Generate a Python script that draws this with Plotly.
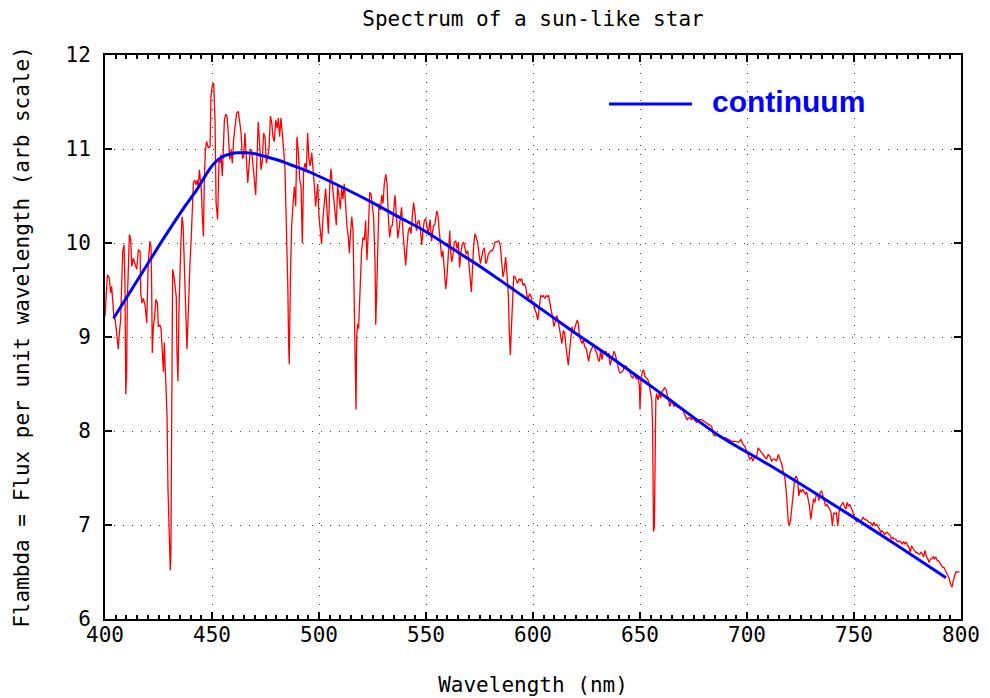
import plotly.graph_objects as go

# ---- red observed spectrum (wavelength nm, flux arb) ----
spec_wl_a = [400.0, 400.5, 401.1, 402.0, 402.6, 403.1, 403.6, 404.2, 404.8, 405.5, 406.2, 406.7, 407.3, 407.8, 408.3,
             408.9, 409.3, 409.7, 410.1, 410.4, 410.9, 411.4, 412.0, 412.5, 413.2, 414.0, 414.8, 415.6, 416.4, 416.7,
             417.3, 417.9, 418.7, 419.5, 420.2, 421.0, 421.5, 421.8, 422.1, 422.6, 423.2, 423.8, 424.5, 424.9, 425.7,
             426.2, 426.6, 427.3, 427.7, 428.3, 429.0, 429.4, 430.1, 430.5, 430.8, 431.2, 431.6, 432.2, 432.9, 433.3,
             433.6, 434.1, 434.6, 435.0, 435.5, 436.0, 436.5, 436.9, 437.4, 437.8, 438.3, 438.8, 439.2, 439.7, 440.2,
             440.6, 441.3, 441.9, 442.5, 443.1, 443.6, 444.1, 444.5, 445.0, 445.5, 446.0, 446.4, 446.9, 447.5, 448.3,
             449.1]
spec_fx_a = [9.22, 9.45, 9.66, 9.63, 9.47, 9.54, 9.36, 9.20, 9.18, 9.04, 8.87, 9.04, 9.18, 9.57, 9.91,
             9.98, 9.61, 8.39, 8.62, 9.36, 9.86, 10.09, 10.04, 9.75, 9.84, 9.79, 9.72, 9.93, 9.91, 9.47,
             9.36, 9.41, 9.34, 9.15, 9.79, 10.02, 9.96, 9.54, 8.83, 9.11, 9.22, 9.40, 9.36, 9.11, 9.13,
             9.08, 8.90, 8.63, 8.94, 8.65, 8.16, 7.41, 6.74, 6.52, 6.74, 9.15, 9.72, 9.65, 9.50, 9.43,
             8.87, 8.53, 9.33, 9.73, 10.02, 10.28, 10.18, 9.89, 9.54, 9.08, 8.87, 9.18, 9.54, 9.79, 10.00,
             10.30, 10.64, 10.67, 10.62, 10.67, 10.59, 10.78, 10.67, 10.57, 10.28, 10.07, 10.67, 10.99, 11.08, 11.01,
             11.03]

spec_wl_b = [449.5, 450.2, 450.8, 451.4, 451.9, 452.6, 453.0, 453.3, 453.7, 454.2, 454.8, 455.3, 455.8, 456.4, 457.0,
             457.6, 458.3, 458.9, 459.5, 460.1, 460.8, 461.5, 462.3, 462.9, 463.6, 464.2, 464.8, 465.4, 466.0, 466.7,
             467.3, 467.9, 468.5, 469.2, 469.8, 470.4, 471.0, 471.6, 472.3, 472.9, 473.5, 474.1, 474.8, 475.4, 476.0,
             476.6, 477.3, 477.9, 478.5, 479.1, 479.8, 480.4, 481.0, 481.6, 482.2, 482.9, 483.5, 484.1, 484.7, 485.4,
             485.8, 486.1, 486.6, 487.2, 487.9, 488.5, 489.1, 489.7, 490.3, 491.0, 491.6, 492.2, 492.8, 493.5, 494.1,
             494.7, 495.3, 495.9, 496.6, 497.2, 497.8, 498.4]
spec_fx_b = [11.56, 11.68, 11.70, 11.31, 10.43, 10.25, 10.78, 10.89, 10.85, 10.94, 10.71, 10.96, 11.31, 11.37, 11.35,
             11.17, 10.89, 10.99, 10.85, 11.10, 11.24, 11.38, 11.40, 11.28, 11.17, 10.90, 10.92, 11.17, 10.89, 10.64,
             10.82, 10.99, 10.99, 10.85, 10.67, 10.51, 10.99, 11.29, 11.03, 10.78, 10.87, 11.17, 11.12, 10.85, 10.92,
             10.99, 11.35, 11.28, 11.13, 11.08, 11.31, 11.22, 11.33, 11.13, 11.33, 11.17, 10.99, 10.78, 10.28, 9.57,
             8.94, 8.71, 9.57, 10.18, 10.43, 10.60, 10.39, 11.13, 10.99, 10.67, 10.60, 10.00, 10.78, 10.85, 10.78,
             11.17, 10.89, 10.82, 10.96, 10.82, 10.62, 10.39]

spec_wl_c = [499.4, 500.0, 500.6, 501.2, 501.9, 502.5, 503.1, 503.7, 504.4, 505.0, 505.6, 506.2, 506.9, 507.5, 508.1,
             508.7, 509.3, 510.0, 510.6, 511.2, 511.8, 512.5, 513.1, 513.7, 514.2, 514.6, 515.3, 515.9, 516.4, 516.8,
             517.3, 517.6, 518.1, 518.5, 519.0, 519.5, 519.9, 520.6, 521.2, 521.8, 522.4, 523.0, 523.7, 524.3, 524.9,
             525.5, 526.2, 526.5, 526.9, 527.4, 528.0, 528.7, 529.3, 529.9, 530.5, 531.2, 531.8, 532.4, 533.0, 533.6,
             534.3, 534.9, 535.5, 536.1, 536.8, 537.4, 538.0, 538.6, 539.3, 539.9, 540.5, 541.1, 541.7, 542.4, 543.0,
             543.6, 544.2, 544.9, 545.5, 546.1, 546.7, 547.3, 548.0, 548.6, 549.2, 549.8]
spec_fx_c = [10.63, 10.28, 10.12, 9.99, 10.28, 10.49, 10.58, 10.36, 10.10, 10.59, 10.79, 10.63, 10.47, 10.31, 10.19,
             10.61, 10.49, 10.36, 10.59, 10.47, 10.63, 10.35, 10.17, 10.06, 9.89, 10.06, 10.28, 10.13, 9.50, 8.58,
             8.23, 9.00, 9.14, 9.09, 9.46, 9.71, 9.92, 10.06, 10.03, 10.24, 9.82, 10.10, 10.54, 10.52, 10.36,
             10.28, 9.78, 9.13, 9.43, 9.92, 10.42, 10.35, 10.51, 10.42, 10.63, 10.73, 10.63, 10.28, 10.06, 10.17,
             10.19, 10.35, 10.51, 10.31, 10.05, 10.15, 10.24, 10.38, 10.10, 9.92, 9.76, 9.96, 10.12, 10.17, 10.10,
             10.28, 10.43, 10.31, 10.13, 10.22, 10.24, 10.17, 9.98, 10.13, 10.24, 10.26]

spec_wl_d = [550.3, 551.1, 551.9, 552.6, 553.4, 554.2, 555.0, 555.5, 556.1, 556.7, 557.3, 557.9, 558.6, 559.2, 559.8,
             560.4, 561.1, 561.5, 562.0, 562.6, 563.2, 563.9, 564.5, 565.1, 565.7, 566.4, 567.0, 567.6, 568.2, 568.8,
             569.5, 570.1, 570.7, 571.2, 571.7, 572.3, 572.9, 573.5, 574.1, 574.8, 575.4, 576.0, 576.6, 577.3, 577.9,
             578.5, 579.1, 579.7, 580.4, 581.0, 581.6, 582.2, 582.9, 583.5, 584.1, 584.7, 585.4, 586.0, 586.6, 587.2,
             587.8, 588.5, 588.9, 589.4, 589.9, 590.3, 591.0, 591.6, 592.2, 592.8, 593.5, 594.1, 594.7, 595.3, 595.9,
             596.6, 597.2, 597.8, 598.4, 599.1, 599.7, 600.3, 600.9, 601.6, 602.2]
spec_fx_d = [10.20, 10.10, 10.25, 10.02, 10.18, 10.20, 10.34, 10.31, 10.15, 9.95, 9.85, 9.92, 9.64, 9.51, 9.64,
             9.85, 10.13, 9.92, 9.80, 9.87, 10.01, 10.02, 9.94, 10.01, 9.74, 9.92, 9.99, 10.01, 9.92, 9.88,
             9.92, 9.74, 9.57, 9.48, 9.71, 9.99, 10.10, 10.06, 10.01, 9.88, 9.78, 9.85, 9.92, 9.95, 9.78,
             9.81, 9.88, 9.90, 9.92, 9.92, 9.95, 10.01, 10.01, 10.02, 10.02, 9.97, 9.73, 9.64, 9.71, 9.85,
             9.69, 9.43, 9.07, 8.81, 9.09, 9.36, 9.65, 9.64, 9.60, 9.57, 9.62, 9.60, 9.62, 9.55, 9.57,
             9.53, 9.44, 9.41, 9.46, 9.43, 9.36, 9.37, 9.29, 9.25, 9.18]

spec_wl_e = [603.0, 603.6, 604.2, 604.8, 605.5, 606.1, 606.7, 607.3, 607.9, 608.6, 609.2, 609.8, 610.4, 611.1, 611.7,
             612.3, 612.9, 613.5, 614.2, 614.8, 615.4, 616.0, 616.5, 617.0, 617.6, 618.2, 618.8, 619.5, 620.1, 620.7,
             621.2, 621.7, 622.3, 622.9, 623.5, 624.1, 624.8, 625.4, 626.0, 626.6, 627.3, 627.9, 628.5, 629.1, 629.8,
             630.4, 631.0, 631.6, 632.2, 632.9, 633.5, 634.1, 634.7, 635.4, 636.0, 636.6, 637.2, 637.9, 638.5, 639.1,
             639.7, 640.3, 641.0, 641.6, 642.2, 642.8, 643.5, 644.1, 644.7, 645.3, 646.0, 646.6, 647.2, 647.8, 648.5,
             649.1, 649.7, 650.0, 650.5, 651.1, 651.7, 652.3, 653.0, 653.6, 654.2, 654.8, 655.5, 655.9, 656.1, 656.3,
             656.7, 657.0, 657.4, 657.8, 658.4, 659.0, 659.7, 660.3, 660.9, 661.5, 662.2, 662.8, 663.4, 664.0, 664.6,
             665.3, 665.9, 666.5, 667.1, 667.8, 668.4, 669.0, 669.6, 670.2, 670.9, 671.5, 672.1, 672.7, 673.4, 674.0,
             674.6, 675.2, 675.9, 676.5, 677.1, 677.7]
spec_fx_e = [9.30, 9.44, 9.43, 9.44, 9.41, 9.44, 9.43, 9.44, 9.36, 9.29, 9.20, 9.11, 9.16, 9.23, 9.18,
             9.09, 9.04, 8.93, 9.07, 9.04, 8.90, 8.74, 8.70, 8.83, 8.97, 9.11, 9.04, 9.11, 9.14, 9.18,
             9.14, 9.00, 8.97, 8.93, 8.97, 8.90, 8.88, 8.79, 8.74, 8.83, 8.88, 8.90, 8.92, 8.86, 8.83,
             8.76, 8.74, 8.86, 8.76, 8.85, 8.83, 8.85, 8.79, 8.83, 8.70, 8.74, 8.79, 8.85, 8.81, 8.76,
             8.69, 8.63, 8.62, 8.63, 8.65, 8.69, 8.69, 8.67, 8.65, 8.62, 8.58, 8.56, 8.60, 8.58, 8.55,
             8.58, 8.48, 8.23, 8.55, 8.63, 8.65, 8.58, 8.56, 8.55, 8.51, 8.42, 8.33, 8.04, 7.70, 6.93,
             6.98, 8.00, 8.34, 8.40, 8.33, 8.40, 8.35, 8.42, 8.44, 8.46, 8.44, 8.37, 8.30, 8.26, 8.32,
             8.30, 8.26, 8.28, 8.26, 8.25, 8.26, 8.23, 8.25, 8.21, 8.18, 8.14, 8.12, 8.14, 8.14, 8.12,
             8.14, 8.12, 8.11, 8.09, 8.11, 8.12]

spec_wl_f = [678.8, 680.4, 682.0, 683.5, 684.3, 685.1, 686.7, 688.2, 689.8, 691.4, 692.9, 694.5, 696.1, 697.2, 698.1,
             698.9, 699.7, 700.5, 701.3, 702.1, 702.8, 703.6, 704.4, 705.2, 706.0, 706.8, 707.5, 708.3, 709.1, 709.9,
             710.7, 711.5, 712.3, 713.0, 713.8, 714.6, 715.4, 716.2, 717.0, 717.8, 718.5, 719.3, 719.8, 720.4, 721.0,
             721.7, 722.3, 722.9, 723.6, 724.2, 724.8, 725.4, 726.1, 726.7, 727.3, 727.9, 728.6, 729.2, 729.8, 730.5,
             731.1, 731.7, 732.3, 733.0, 733.6, 734.2, 734.9, 735.5, 736.1, 736.7, 737.4, 738.0, 738.6, 739.3, 739.9,
             740.5, 741.1, 741.8, 742.4, 743.0, 743.7, 744.3, 744.9, 745.5, 746.2, 746.8, 747.4, 748.0, 748.7, 749.3,
             749.9, 750.6, 751.2, 751.8, 752.4, 753.1, 753.7, 754.3, 754.9, 755.6, 756.2, 756.8, 757.5, 758.1, 758.7,
             759.3, 760.0, 760.6, 761.2, 761.9, 762.5, 763.1, 763.7, 764.4, 765.0, 765.6, 766.3, 766.9, 767.5, 768.1,
             768.8, 769.4, 770.0, 770.7, 771.3, 771.9, 772.5, 773.2, 773.8, 774.4, 775.1, 775.7, 776.3, 776.9, 777.6,
             778.2, 778.8, 779.4, 780.1, 780.7, 781.3, 782.0, 782.6, 783.2, 783.8, 784.5, 785.1, 785.7, 786.3, 787.0,
             787.6, 788.2, 788.9, 789.5, 790.1, 790.7, 791.4, 792.0, 792.6, 793.3, 793.9, 794.5, 795.1, 795.8, 796.4,
             797.0, 797.6, 798.3, 799.2]
spec_fx_f = [8.12, 8.09, 8.07, 8.05, 7.96, 7.95, 7.96, 7.93, 7.93, 7.91, 7.89, 7.89, 7.88, 7.91, 7.86,
             7.84, 7.79, 7.75, 7.70, 7.72, 7.68, 7.73, 7.72, 7.82, 7.79, 7.77, 7.75, 7.72, 7.70, 7.75,
             7.73, 7.68, 7.70, 7.70, 7.68, 7.75, 7.70, 7.65, 7.56, 7.49, 7.31, 7.03, 6.99, 7.06, 7.20,
             7.35, 7.49, 7.52, 7.49, 7.31, 7.38, 7.35, 7.38, 7.35, 7.33, 7.35, 7.26, 7.20, 7.06, 7.22,
             7.28, 7.24, 7.31, 7.33, 7.26, 7.35, 7.36, 7.31, 7.24, 7.20, 7.22, 7.20, 7.17, 7.13, 6.99,
             7.13, 7.12, 7.13, 6.99, 7.13, 7.20, 7.22, 7.24, 7.20, 7.17, 7.24, 7.20, 7.22, 7.19, 7.15,
             7.10, 7.05, 7.03, 7.06, 7.05, 7.03, 7.06, 7.08, 7.06, 7.05, 7.05, 7.03, 7.02, 7.02, 6.99,
             7.03, 6.99, 7.01, 6.98, 6.96, 6.92, 6.94, 6.92, 6.90, 6.92, 6.92, 6.90, 6.89, 6.85, 6.87,
             6.85, 6.85, 6.83, 6.82, 6.83, 6.82, 6.80, 6.82, 6.80, 6.82, 6.78, 6.76, 6.71, 6.78, 6.75,
             6.73, 6.71, 6.71, 6.69, 6.69, 6.71, 6.69, 6.66, 6.73, 6.67, 6.64, 6.60, 6.64, 6.64, 6.66,
             6.64, 6.66, 6.62, 6.62, 6.60, 6.57, 6.55, 6.55, 6.52, 6.50, 6.46, 6.43, 6.37, 6.34, 6.41,
             6.46, 6.50, 6.50, 6.50]

spec_wl = spec_wl_a + spec_wl_b + spec_wl_c + spec_wl_d + spec_wl_e + spec_wl_f
spec_fx = spec_fx_a + spec_fx_b + spec_fx_c + spec_fx_d + spec_fx_e + spec_fx_f

# ---- blue continuum fit ----
cont_wl = [404, 412, 420, 428, 437, 443, 447, 450, 453, 456, 459, 462, 466, 470, 475, 481, 487, 494, 500,
           512, 525, 537, 550, 563, 576, 588, 600, 618, 636, 661, 687, 711, 736, 765, 793]
cont_fx = [9.20, 9.49, 9.78, 10.07, 10.38, 10.57, 10.72, 10.82, 10.89, 10.93, 10.95, 10.96, 10.96, 10.95, 10.92,
           10.88, 10.83, 10.77, 10.71, 10.58, 10.43, 10.28, 10.12, 9.93, 9.74, 9.55, 9.36, 9.07, 8.79, 8.38,
           7.95, 7.63, 7.28, 6.86, 6.44]

x_ticks = [400, 450, 500, 550, 600, 650, 700, 750, 800]
y_ticks = [6, 7, 8, 9, 10, 11, 12]

MONO = "DejaVu Sans Mono"
FS = 21

fig = go.Figure()
fig.add_trace(go.Scatter(x=spec_wl, y=spec_fx, mode="lines",
                         line=dict(color="#ff0000", width=1.3), showlegend=False))
fig.add_trace(go.Scatter(x=cont_wl, y=cont_fx, mode="lines",
                         line=dict(color="#0000ff", width=3, shape="spline", smoothing=0.8),
                         showlegend=False))

axis_common = dict(showline=True, linecolor="black", linewidth=2, mirror="ticks",
                   ticks="inside", ticklen=7, tickwidth=1.5, tickcolor="black",
                   showgrid=True, gridcolor="#444444", gridwidth=1, griddash="1px,8px",
                   zeroline=False, tickfont=dict(family=MONO, size=FS, color="black"))

fig.update_xaxes(range=[400, 800], tickvals=x_ticks, ticktext=[str(v) for v in x_ticks],
                 minor=dict(dtick=5, tick0=400, ticks="inside", ticklen=4, tickcolor="black", showgrid=False),
                 title=dict(text="Wavelength (nm)", font=dict(family=MONO, size=FS, color="black"), standoff=31),
                 ticklabelstandoff=-4, **axis_common)
fig.update_yaxes(range=[6, 12], tickvals=y_ticks, ticktext=[str(v) for v in y_ticks],
                 title=dict(text="Flambda = Flux per unit wavelength (arb scale)",
                            font=dict(family=MONO, size=FS, color="black"), standoff=30),
                 ticklabelstandoff=8, **axis_common)

# legend drawn manually to match the long sample line
fig.add_shape(type="line", xref="paper", yref="paper", x0=0.5888, x1=0.6857, y0=0.9131, y1=0.9131,
              line=dict(color="#0000ff", width=3))
fig.add_annotation(xref="paper", yref="paper", x=0.707, y=0.917, xanchor="left", yanchor="middle",
                   text="<b>continuum</b>", showarrow=False,
                   font=dict(family="Liberation Sans", size=30, color="#0000ff"))

# page body has an 8px margin, so margins are offset to place the plot area as in the reference
fig.update_layout(
    width=990, height=698,
    margin=dict(l=97, r=37, t=47, b=87),
    paper_bgcolor="white", plot_bgcolor="white",
    title=dict(text="Spectrum of a sun-like star", x=0.5, xref="paper", xanchor="center",
               y=1 - 3 / 698, yref="container", yanchor="top", pad=dict(t=0, b=0),
               font=dict(family=MONO, size=FS, color="black")),
)

fig.write_html("out.html")
